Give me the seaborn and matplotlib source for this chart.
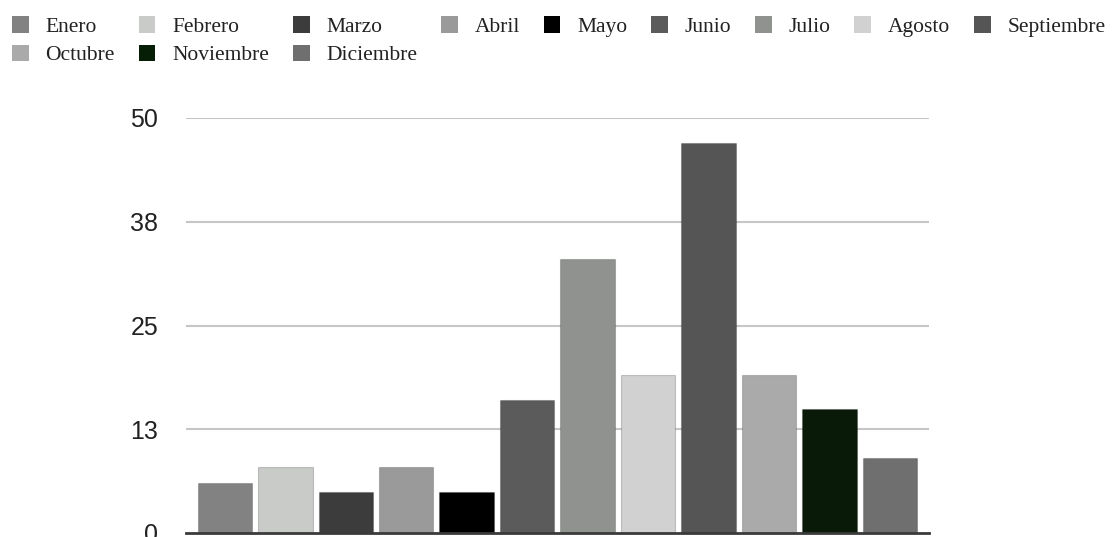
import matplotlib
matplotlib.use("Agg")
import matplotlib.pyplot as plt
from matplotlib.patches import Patch
import seaborn as sns
import pandas as pd

# Monthly values
months = ["Enero", "Febrero", "Marzo", "Abril", "Mayo", "Junio", "Julio",
          "Agosto", "Septiembre", "Octubre", "Noviembre", "Diciembre"]
values = [6, 8, 5, 8, 5, 16, 33, 19, 47, 19, 15, 9]
colors = ["#828282", "#c8cbc7", "#3c3c3c", "#9a9a9a", "#000000", "#5b5b5b",
          "#8f928e", "#d1d1d1", "#555555", "#aaaaaa", "#061d06", "#6f6f6f"]
tick_values = [0, 12.5, 25, 37.5, 50]
tick_labels = ["0", "13", "25", "38", "50"]

df = pd.DataFrame({"mes": months, "valor": values})

sns.set_theme(style="white")
plt.rcParams["font.family"] = ["Liberation Sans", "DejaVu Sans"]

fig = plt.figure(figsize=(11.14, 5.37), dpi=100)
ax = fig.add_axes([186 / 1114, 4 / 537, 743 / 1114, 415 / 537])

sns.barplot(data=df, x="mes", y="valor", hue="mes", palette=colors,
            width=0.9, dodge=False, legend=False, ax=ax,
            edgecolor="#00000030", linewidth=0.8)

ax.set_xlim(-0.642, 11.645)
ax.set_ylim(0, 50)
ax.set_yticks(tick_values)
ax.set_yticklabels(tick_labels, fontsize=18, color="#222222")
ax.tick_params(axis="y", length=0, pad=20)
ax.set_xticks([])
ax.set_xlabel("")
ax.set_ylabel("")

for v in tick_values[1:]:
    ax.axhline(v, color="#c6c6c6", lw=1.5, zorder=0)
ax.set_axisbelow(True)

for side in ["top", "right", "left"]:
    ax.spines[side].set_visible(False)
ax.spines["bottom"].set_color("#3a3a3a")
ax.spines["bottom"].set_linewidth(2.0)
ax.spines["bottom"].set_zorder(5)

# Legend laid out in rows of nine: the legend fills column by column,
# so interleave the first row with the second
ncols = 9
first_row = list(range(ncols))
second_row = list(range(ncols, len(months)))
order = []
for i in first_row:
    order.append(i)
    if i < len(second_row):
        order.append(second_row[i])
handles = [Patch(facecolor=colors[i], edgecolor="none") for i in order]
labels = [months[i] for i in order]
leg = fig.legend(handles, labels, loc="upper left",
                 bbox_to_anchor=(12 / 1114, 1 - 16.5 / 537),
                 ncol=ncols, frameon=False, borderpad=0, borderaxespad=0,
                 handlelength=0.78, handleheight=0.78, handletextpad=0.78,
                 columnspacing=1.1, labelspacing=0.36,
                 prop={"family": "Liberation Serif", "size": 15.5})
for t in leg.get_texts():
    t.set_color("#222222")

fig.savefig("out.png", dpi=100)
